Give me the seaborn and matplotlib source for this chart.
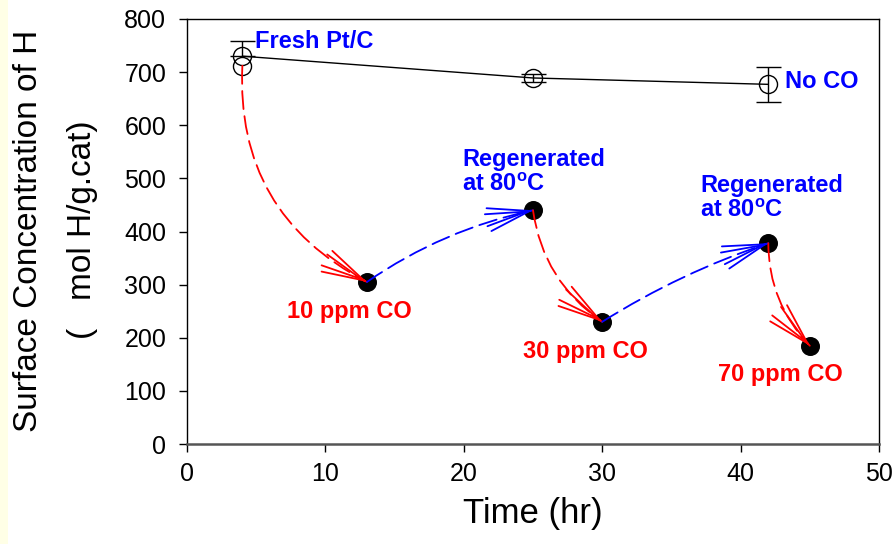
import matplotlib
matplotlib.use("Agg")
import matplotlib.pyplot as plt
from matplotlib.patches import Rectangle
import seaborn as sns
import pandas as pd
import numpy as np

# Fresh catalyst without CO
fresh_time = [4, 25, 42]
fresh_h = [730, 689, 677]
fresh_err_lo = [0, 8, 33]
fresh_err_hi = [28, 8, 33]
fresh_start = 712  # fresh catalyst, start of the CO exposure path

# CO poisoning / regeneration sequence
seq_time = [13, 25, 30, 42, 45]
seq_h = [305, 440, 230, 378, 185]

x_ticks = [0, 10, 20, 30, 40, 50]
y_ticks = [0, 100, 200, 300, 400, 500, 600, 700, 800]

sns.set_theme(style="white")
plt.rcParams["font.family"] = ["Liberation Sans", "DejaVu Sans"]
plt.rcParams["mathtext.fontset"] = "custom"
plt.rcParams["mathtext.rm"] = "Liberation Sans"
plt.rcParams["mathtext.bf"] = "Liberation Sans:bold"
plt.rcParams["text.color"] = "black"

fig = plt.figure(figsize=(8.95, 5.44), dpi=100)
fig.patch.set_facecolor("white")
fig.patches.append(Rectangle((0, 0), 8 / 895, 1, transform=fig.transFigure,
                             facecolor="#FFFFE6", edgecolor="none", zorder=0))
ax = fig.add_axes([187 / 895, 100 / 544, 692 / 895, 425 / 544])
ax.set_xlim(0, 50)
ax.set_ylim(0, 800)

fresh_df = pd.DataFrame({"t": fresh_time, "h": fresh_h})
ax.errorbar(fresh_time, fresh_h, yerr=[fresh_err_lo, fresh_err_hi], fmt="none",
            ecolor="black", elinewidth=1.0, capsize=9, capthick=1.0, zorder=3)
sns.lineplot(data=fresh_df, x="t", y="h", ax=ax, color="black", lw=1.0,
             marker="o", markersize=13, markerfacecolor="none",
             markeredgecolor="black", markeredgewidth=1.0, zorder=4)
ax.plot([fresh_time[0]], [fresh_start], marker="o", markersize=13,
        markerfacecolor="none", markeredgecolor="black", markeredgewidth=1.0,
        zorder=4)

seq_df = pd.DataFrame({"t": seq_time, "h": seq_h})
sns.scatterplot(data=seq_df, x="t", y="h", ax=ax, color="black", s=160,
                edgecolor="black", zorder=5)

# Curved dashed arrows between consecutive states:
# red = CO exposure, blue = regeneration
path_x = [fresh_time[0]] + seq_time
path_y = [fresh_start] + seq_h
styles = [("red", 0.32), ("blue", -0.1), ("red", 0.22),
          ("blue", -0.06), ("red", 0.2)]
to_disp = ax.transData
to_data = ax.transData.inverted()
for i, (col, rad) in enumerate(styles):
    p0 = (path_x[i], path_y[i])
    p1 = (path_x[i + 1], path_y[i + 1])
    ax.annotate("", xy=p1, xytext=p0,
                arrowprops=dict(arrowstyle="-", color=col, lw=1.3,
                                linestyle=(0, (10, 4)),
                                connectionstyle=f"arc3,rad={rad}",
                                shrinkA=0, shrinkB=0),
                zorder=6)
    # solid open head, aligned with the curve tangent at the end point
    d0 = np.array(to_disp.transform(p0))
    d1 = np.array(to_disp.transform(p1))
    mid = (d0 + d1) / 2
    dx, dy = d1 - d0
    ctrl = mid + rad * np.array([dy, -dx])
    tang = (d1 - ctrl) / np.linalg.norm(d1 - ctrl)
    tail = to_data.transform(d1 - 3 * tang)
    for hw in (0.42, 0.22):
        ax.annotate("", xy=p1, xytext=tuple(tail),
                    arrowprops=dict(arrowstyle=f"->,head_length=1.5,head_width={hw}",
                                    color=col, lw=1.3, shrinkA=0, shrinkB=0,
                                    mutation_scale=20),
                    zorder=6)

lab = dict(fontsize=17, fontweight="bold", ha="left", va="center")
ax.text(4.9, 757, "Fresh Pt/C", color="blue", **lab)
ax.text(43.2, 682, "No CO", color="blue", **lab)
ax.text(19.9, 512, "Regenerated\nat 80$^\\mathbf{o}$C", color="blue",
        linespacing=1.15, **lab)
ax.text(37.1, 463, "Regenerated\nat 80$^\\mathbf{o}$C", color="blue",
        linespacing=1.15, **lab)
ax.text(7.2, 249, "10 ppm CO", color="red", **lab)
ax.text(24.3, 175, "30 ppm CO", color="red", **lab)
ax.text(38.4, 130, "70 ppm CO", color="red", **lab)

ax.set_xticks(x_ticks)
ax.set_yticks(y_ticks)
ax.tick_params(axis="both", which="major", direction="out", length=6,
               width=1.0, color="black", labelsize=18, labelcolor="black",
               bottom=True, left=True, top=False, right=False)
ax.tick_params(axis="y", pad=9)
ax.tick_params(axis="x", pad=7)
ax.set_xlabel("Time (hr)", fontsize=25, labelpad=8, color="black")
ax.set_ylabel("")
for s in ["left", "top", "right"]:
    ax.spines[s].set_color("black")
    ax.spines[s].set_linewidth(1.0)
ax.spines["bottom"].set_color("#555555")
ax.spines["bottom"].set_linewidth(1.8)

fig.text(29 / 895, 1 - 231 / 544, "Surface Concentration of H", rotation=90,
         fontsize=24, ha="center", va="center", color="black")
fig.text(83 / 895, 1 - 230 / 544, "(   mol H/g.cat)", rotation=90,
         fontsize=24, ha="center", va="center", color="black")

fig.savefig("out.png", dpi=100)
